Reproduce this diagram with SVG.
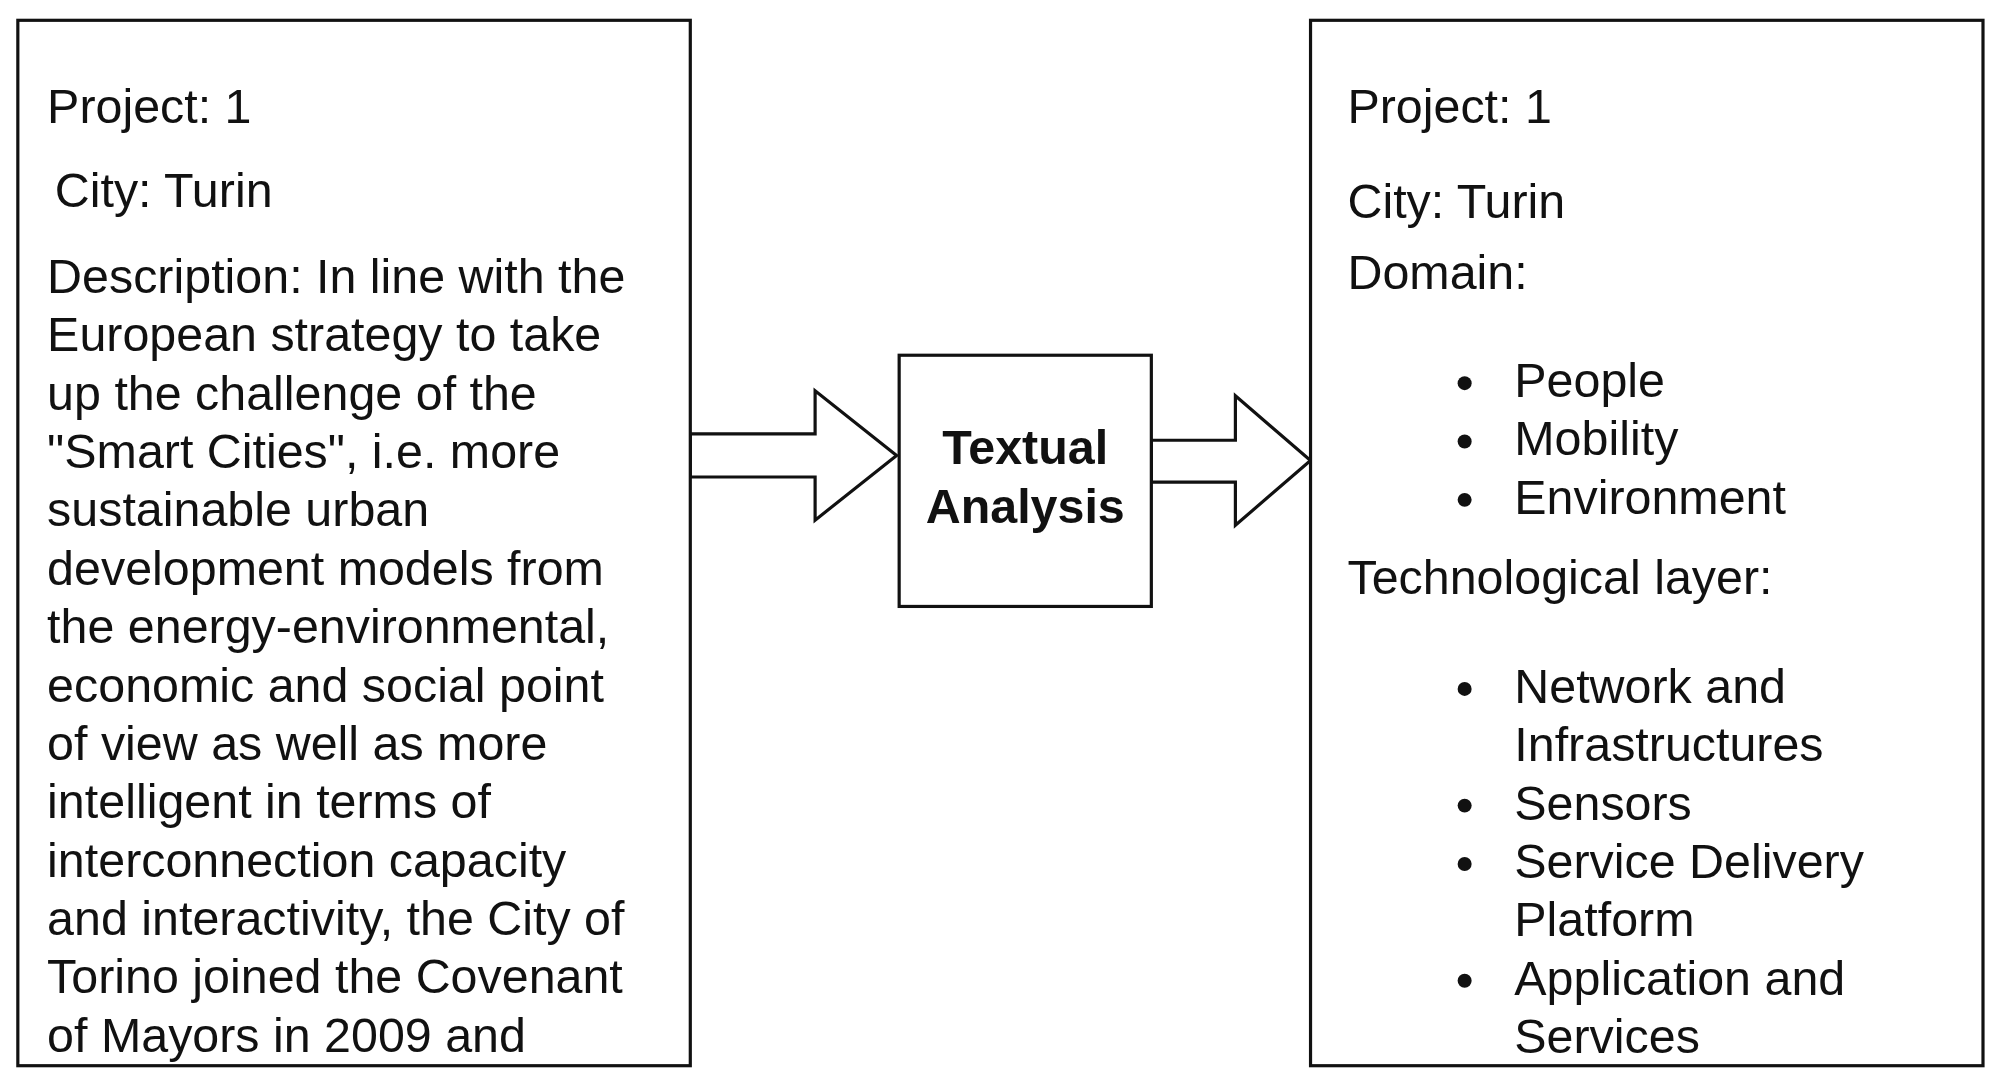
<svg xmlns="http://www.w3.org/2000/svg" width="1997" height="1086" viewBox="0 0 1997 1086">
<style>
.b{fill:#fff;stroke:#111;stroke-width:2.5}
.t{font-family:"Liberation Sans",Arial,sans-serif;font-size:38px;fill:#111}
.bd{font-weight:bold;text-anchor:middle}
</style>
<rect width="1997" height="1086" fill="#fff"/>
<g transform="scale(1.2736,1.2687)">
<g id="connectors">
<path class="b" d="M542,342 H640 V308 L704,359 L640,410 V376 H542 Z"/>
<path class="b" d="M904,347 H970 V312 L1029,363 L970,414 V380 H904 Z"/>
</g>
<g id="input">
<rect class="b" x="14" y="16" width="528" height="824"/>
<text class="t" x="37" y="97">Project: 1</text>
<text class="t" x="43" y="163">City: Turin</text>
<text class="t" x="37">
<tspan x="37" y="231">Description: In line with the</tspan>
<tspan x="37" y="277">European strategy to take</tspan>
<tspan x="37" y="323">up the challenge of the</tspan>
<tspan x="37" y="369">"Smart Cities", i.e. more</tspan>
<tspan x="37" y="415">sustainable urban</tspan>
<tspan x="37" y="461">development models from</tspan>
<tspan x="37" y="507">the energy-environmental,</tspan>
<tspan x="37" y="553">economic and social point</tspan>
<tspan x="37" y="599">of view as well as more</tspan>
<tspan x="37" y="645">intelligent in terms of</tspan>
<tspan x="37" y="691">interconnection capacity</tspan>
<tspan x="37" y="737">and interactivity, the City of</tspan>
<tspan x="37" y="783">Torino joined the Covenant</tspan>
<tspan x="37" y="829">of Mayors in 2009 and</tspan>
</text>
</g>
<g id="analysis">
<rect class="b" x="706" y="280" width="198" height="198"/>
<text class="t bd" x="805" y="366" font-size="36">Textual</text>
<text class="t bd" x="805" y="412" font-size="36">Analysis</text>
</g>
<g id="output">
<rect class="b" x="1029" y="16" width="528" height="824"/>
<text class="t" x="1058" y="97">Project: 1</text>
<text class="t" x="1058" y="172">City: Turin</text>
<text class="t" x="1058" y="228">Domain:</text>
<text class="t" x="1058" y="468">Technological layer:</text>
<g fill="#111">
<circle cx="1150" cy="302" r="5.5"/><circle cx="1150" cy="348" r="5.5"/><circle cx="1150" cy="394" r="5.5"/>
<circle cx="1150" cy="543" r="5.5"/><circle cx="1150" cy="635" r="5.5"/><circle cx="1150" cy="681" r="5.5"/><circle cx="1150" cy="773" r="5.5"/>
</g>
<text class="t">
<tspan x="1189" y="313">People</tspan>
<tspan x="1189" y="359">Mobility</tspan>
<tspan x="1189" y="405">Environment</tspan>
<tspan x="1189" y="554">Network and</tspan>
<tspan x="1189" y="600">Infrastructures</tspan>
<tspan x="1189" y="646">Sensors</tspan>
<tspan x="1189" y="692">Service Delivery</tspan>
<tspan x="1189" y="738">Platform</tspan>
<tspan x="1189" y="784">Application and</tspan>
<tspan x="1189" y="830">Services</tspan>
</text>
</g>
</g>
</svg>
